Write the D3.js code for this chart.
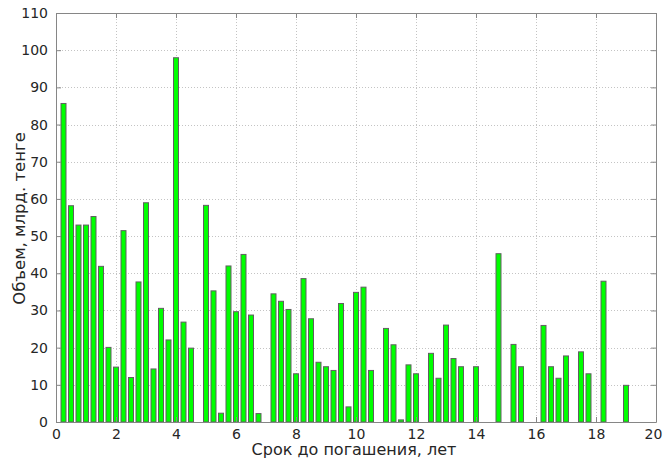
<!DOCTYPE html>
<html>
<head>
<meta charset="utf-8">
<script src="https://cdn.jsdelivr.net/npm/d3@7"></script>
<style>
body { margin: 0; background: #fff; }
text { font-family: "DejaVu Sans", sans-serif; fill: #262626; }
</style>
</head>
<body>
<script>
let maturity = [0.25, 0.5, 0.75, 1.0, 1.25, 1.5, 1.75, 2.0, 2.25, 2.5, 2.75, 3.0, 3.25, 3.5, 3.75, 4.0, 4.25, 4.5,
  5.0, 5.25, 5.5, 5.75, 6.0, 6.25, 6.5, 6.75, 7.25, 7.5, 7.75, 8.0, 8.25, 8.5, 8.75, 9.0, 9.25, 9.5, 9.75, 10.0, 10.25, 10.5,
  11.0, 11.25, 11.5, 11.75, 12.0, 12.5, 12.75, 13.0, 13.25, 13.5, 14.0, 14.75, 15.25, 15.5,
  16.25, 16.5, 16.75, 17.0, 17.5, 17.75, 18.25, 19.0];
let volume = [85.8, 58.3, 53.1, 53.1, 55.4, 42.0, 20.2, 14.9, 51.6, 12.1, 37.8, 59.1, 14.4, 30.7, 22.2, 98.1, 27.0, 20.0,
  58.4, 35.4, 2.5, 42.1, 29.8, 45.2, 28.9, 2.4, 34.6, 32.6, 30.4, 13.1, 38.7, 27.9, 16.2, 15.0, 14.0, 32.0, 4.2, 35.0, 36.4, 14.0,
  25.3, 20.9, 0.7, 15.5, 13.1, 18.6, 11.9, 26.2, 17.2, 15.0, 15.0, 45.4, 21.0, 15.0,
  26.1, 15.0, 11.9, 17.9, 19.0, 13.1, 38.0, 10.0];
let xTicks = [0, 2, 4, 6, 8, 10, 12, 14, 16, 18, 20];
let yTicks = [0, 10, 20, 30, 40, 50, 60, 70, 80, 90, 100, 110];
let xTitle = "Срок до погашения, лет";
let yTitle = "Объем, млрд. тенге";

let W = 663, H = 463;
let m = {top: 13, right: 7, bottom: 41, left: 56};
let w = W - m.left - m.right, h = H - m.top - m.bottom;
let barWidth = 0.2;

let svg = d3.select("body").append("svg").attr("width", W).attr("height", H);
let g = svg.append("g").attr("transform", "translate(" + m.left + "," + m.top + ")");

let x = d3.scaleLinear().domain([0, 20]).range([0, w]);
let y = d3.scaleLinear().domain([0, 110]).range([h, 0]);

// grid
g.append("g").selectAll("line").data(xTicks.slice(1, -1)).enter().append("line")
  .attr("x1", d => x(d) + 0.5).attr("x2", d => x(d) + 0.5).attr("y1", 0).attr("y2", h)
  .attr("stroke", "#c4c4c4").attr("stroke-dasharray", "1,2");
g.append("g").selectAll("line").data(yTicks.slice(1, -1)).enter().append("line")
  .attr("y1", d => Math.round(y(d)) + 0.5).attr("y2", d => Math.round(y(d)) + 0.5).attr("x1", 0).attr("x2", w)
  .attr("stroke", "#c4c4c4").attr("stroke-dasharray", "1,2");

// bars
let data = maturity.map((d, i) => [d, volume[i]]);
g.selectAll("rect.bar").data(data).enter().append("rect")
  .attr("class", "bar")
  .attr("x", d => x(d[0] - barWidth / 2) + 0.5)
  .attr("y", d => y(d[1]) + 0.5)
  .attr("width", x(barWidth) - x(0) - 1)
  .attr("height", d => y(0) - y(d[1]) - 0.5)
  .attr("fill", "#00ff00")
  .attr("stroke", "#606060")
  .attr("stroke-width", 1);

// axes, ticks inside on all sides
let xAxis = g.append("g").attr("transform", "translate(0," + h + ")")
  .call(d3.axisBottom(x).tickValues(xTicks).tickSizeInner(-5).tickSizeOuter(0).tickPadding(7));
let yAxis = g.append("g")
  .call(d3.axisLeft(y).tickValues(yTicks).tickSizeInner(-5).tickSizeOuter(0).tickPadding(8));
g.append("g").call(d3.axisTop(x).tickValues(xTicks).tickSizeInner(-5).tickSizeOuter(0).tickFormat(""));
g.append("g").attr("transform", "translate(" + w + ",0)")
  .call(d3.axisRight(y).tickValues(yTicks).tickSizeInner(-5).tickSizeOuter(0).tickFormat(""));

svg.selectAll(".domain, .tick line").attr("stroke", "#868686");
svg.selectAll(".tick text").attr("font-size", "14px").attr("fill", "#262626");
// keep the last x label inside the page
xAxis.selectAll(".tick text").filter(d => d == 20).attr("dx", "-3");

g.append("text").attr("x", w / 2 - 2).attr("y", h + 33)
  .attr("text-anchor", "middle").attr("font-size", "16px").text(xTitle);
g.append("text").attr("transform", "translate(-31," + (h / 2 + 1) + ") rotate(-90)")
  .attr("text-anchor", "middle").attr("font-size", "16.5px").text(yTitle);
</script>
</body>
</html>
